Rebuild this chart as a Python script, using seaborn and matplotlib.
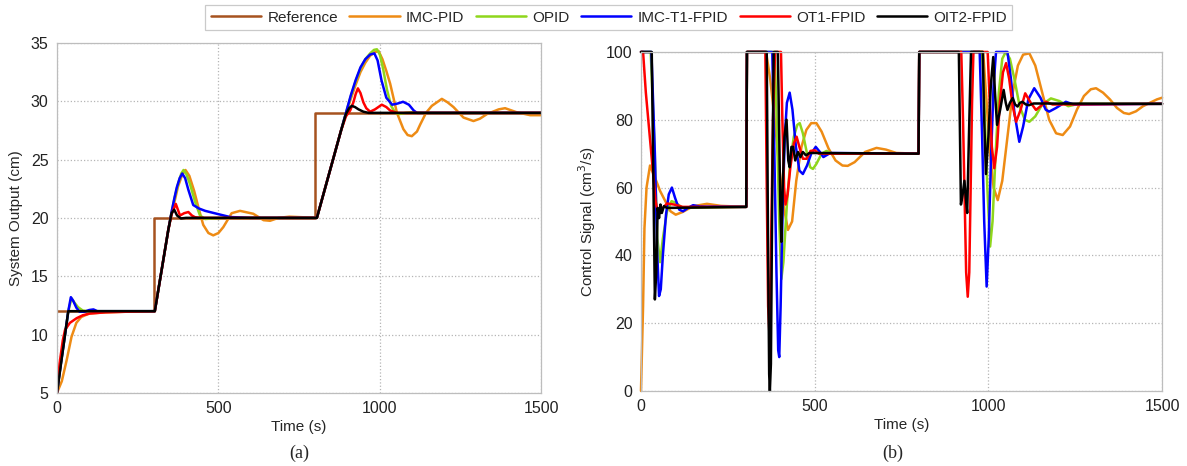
import pandas as pd
import matplotlib.pyplot as plt
import seaborn as sns
from matplotlib.lines import Line2D

names = ['Reference', 'IMC-PID', 'OPID', 'IMC-T1-FPID', 'OT1-FPID', 'OIT2-FPID']
colors = ['#A6521F', '#EE8B14', '#8FD61C', '#0000FF', '#FF0000', '#000000']

# ---- (a) system output ----
t_ref = [0, 300, 300, 800, 800, 1500]
y_ref = [12, 12, 20, 20, 29, 29]

t_imc_a = [0, 15, 30, 45, 60, 75, 100, 150, 210, 303, 315, 330, 345, 355, 365, 375, 388, 398, 410, 425,
           438, 453, 469, 484, 500, 515, 541, 567, 608, 640, 660, 686, 720, 805, 830, 855, 880, 895, 910,
           925, 940, 955, 970, 985, 996, 1008, 1020, 1032, 1053, 1073, 1086, 1099, 1115, 1125, 1143, 1161,
           1192, 1210, 1228, 1259, 1290, 1310, 1332, 1368, 1388, 1424, 1466, 1500]
y_imc_a = [5, 6.0, 7.8, 9.8, 11.0, 11.5, 11.8, 11.9, 11.95, 12, 14.0, 16.5, 19.0, 20.4, 21.5, 22.7, 23.7, 24.1,
           23.6, 22.3, 20.9, 19.4, 18.7, 18.5, 18.7, 19.2, 20.4, 20.6, 20.35, 19.8, 19.75, 20.0, 20.1, 20, 22.5,
           25.0, 27.5, 28.9, 30.2, 31.4, 32.5, 33.3, 33.9, 34.2, 34.3, 33.6, 32.6, 31.5, 29.0, 27.6, 27.1, 27.0,
           27.4, 28.0, 29.0, 29.6, 30.2, 29.9, 29.5, 28.6, 28.3, 28.5, 28.9, 29.3, 29.4, 29.05, 28.8, 28.8]

t_opid_a = [0, 12, 25, 35, 45, 55, 65, 80, 95, 303, 315, 330, 345, 355, 365, 376, 385, 392, 400, 412, 428,
            443, 459, 480, 520, 805, 830, 855, 880, 895, 910, 925, 940, 955, 970, 982, 991, 1000, 1010, 1022,
            1035, 1048, 1060, 1080, 1100, 1130, 1500]
y_opid_a = [5, 7.5, 10, 12, 13.1, 12.7, 12.35, 12.05, 12.0, 12, 14.0, 16.5, 19.0, 20.5, 21.8, 23.0, 23.8, 24.1,
            23.8, 22.9, 21.35, 20.2, 19.9, 19.95, 20, 20, 22.5, 25.0, 27.5, 29.0, 30.4, 31.7, 32.8, 33.6, 34.1,
            34.4, 34.45, 34.0, 32.8, 31.0, 29.6, 29.0, 28.9, 29.0, 29.05, 29.0, 29]

t_imct1_a = [0, 12, 25, 35, 43, 50, 60, 70, 85, 100, 113, 125, 303, 315, 330, 345, 355, 363, 371, 380, 388,
             397, 407, 422, 440, 459, 495, 536, 600, 805, 830, 855, 880, 895, 910, 925, 940, 955, 970, 983,
             993, 1005, 1020, 1038, 1055, 1072, 1090, 1105, 1115, 1500]
y_imct1_a = [5, 7.5, 10, 12, 13.2, 12.9, 12.3, 11.95, 11.95, 12.1, 12.15, 12.0, 12, 14.0, 16.5, 19.0, 20.5, 21.6,
             22.6, 23.4, 23.8, 23.4, 22.4, 21.1, 20.8, 20.6, 20.35, 20.07, 20, 20, 22.5, 25.0, 27.5, 29.0, 30.5,
             31.8, 32.9, 33.6, 34.0, 34.1, 33.5, 31.8, 30.3, 29.7, 29.8, 29.95, 29.7, 29.2, 29.0, 29]

t_ot1_a = [0, 8, 18, 25, 40, 61, 80, 102, 150, 210, 303, 315, 330, 345, 355, 368, 381, 394, 407, 418, 428,
           450, 805, 830, 855, 880, 895, 908, 918, 925, 932, 940, 949, 958, 970, 985, 1006, 1020, 1032, 1053,
           1500]
y_ot1_a = [5, 7.5, 9.5, 10.4, 11.0, 11.4, 11.65, 11.8, 11.9, 11.95, 12, 14.0, 16.5, 19.0, 20.3, 21.2, 20.2,
           20.4, 20.5, 20.2, 20.05, 20, 20, 22.5, 25.0, 27.5, 28.7, 29.2, 29.9, 30.6, 31.1, 30.7, 29.9, 29.4,
           29.1, 29.3, 29.7, 29.5, 29.2, 29.0, 29]

t_oit2_a = [0, 35, 303, 315, 330, 345, 355, 363, 372, 384, 400, 805, 830, 855, 880, 895, 905, 913, 923, 934,
            949, 965, 1500]
y_oit2_a = [5, 12, 12, 14.0, 16.5, 19.0, 20.4, 20.7, 20.2, 19.95, 20.0, 20, 22.5, 25.0, 27.5, 28.9, 29.4, 29.6,
            29.5, 29.3, 29.1, 29, 29]

# ---- (b) control signal ----
t_imc_b = [0, 6, 10, 16, 26, 40, 55, 70, 85, 100, 120, 150, 190, 230, 303, 305, 360, 372, 385, 398, 410, 423,
           435, 447, 462, 476, 490, 505, 520, 540, 560, 580, 595, 615, 645, 678, 705, 735, 799, 801, 985, 995,
           1005, 1015, 1027, 1040, 1055, 1070, 1085, 1100, 1118, 1135, 1155, 1175, 1195, 1214, 1235, 1255,
           1275, 1295, 1310, 1330, 1350, 1370, 1390, 1405, 1425, 1445, 1465, 1485, 1500]
y_imc_b = [0, 25, 48, 60, 66.5, 63, 59, 56, 53, 52, 52.8, 54.5, 55.2, 54.6, 54.3, 100, 100, 92, 80, 66, 55, 47.5,
           50, 62, 72, 77, 79, 79, 76.5, 71.5, 68, 66.5, 66.4, 67.5, 70.5, 71.7, 71.2, 70.2, 70, 100, 100, 85,
           70, 60, 56.3, 62, 75, 88, 96, 99.2, 99.6, 96, 88, 80, 76, 75.5, 78, 83, 87, 89, 89.3, 88, 86, 83.5,
           82, 81.7, 82.5, 84, 85, 86, 86.5]

t_opid_b = [0, 28, 38, 47, 55, 63, 75, 88, 100, 120, 303, 305, 385, 392, 398, 404, 410, 420, 430, 440, 450,
            457, 466, 478, 487, 495, 505, 520, 534, 550, 799, 801, 982, 990, 997, 1005, 1012, 1020, 1030, 1040,
            1050, 1062, 1075, 1090, 1105, 1118, 1135, 1155, 1180, 1205, 1230, 1260, 1500]
y_opid_b = [100, 100, 75, 45, 38, 45, 53, 56, 55.5, 54, 54.3, 100, 100, 75, 50, 33, 38, 55, 68, 75, 78.5, 79,
            76, 70, 66, 65.5, 67, 70, 70.8, 70, 70, 100, 100, 80, 60, 42.6, 50, 68, 88, 98, 100, 98, 92, 84, 80,
            79.4, 81, 84.5, 86.3, 85.5, 84, 84.7, 84.7]

t_imct1_b = [0, 30, 40, 47, 52, 57, 63, 72, 80, 89, 98, 110, 121, 135, 150, 170, 303, 305, 378, 384, 390, 395,
             398, 402, 408, 414, 420, 428, 436, 446, 456, 466, 478, 490, 503, 515, 525, 545, 799, 801, 975, 982,
             988, 995, 1001, 1008, 1015, 1022, 1055, 1065, 1075, 1089, 1100, 1115, 1132, 1150, 1165, 1175, 1195,
             1223, 1245, 1500]
y_imct1_b = [100, 100, 70, 40, 28, 30, 40, 52, 58, 60, 57, 53.5, 53, 54, 54.8, 54.4, 54.3, 100, 100, 70, 35, 12,
             10, 25, 55, 75, 85, 88, 83, 72, 65, 64, 66.5, 70, 72, 70.5, 69, 70.2, 70, 100, 100, 75, 50, 30.8, 45,
             70, 90, 100, 100, 92, 82, 73.5, 78, 86, 89.3, 86.5, 83, 82.4, 83.5, 85.3, 84.5, 84.7]

t_ot1_b = [0, 6, 14, 21, 28, 35, 42, 48, 58, 75, 95, 120, 303, 305, 358, 362, 366, 370, 374, 380, 386, 403,
           407, 412, 416, 422, 430, 440, 448, 456, 466, 477, 488, 500, 512, 799, 801, 922, 927, 932, 936, 940.6,
           945, 949, 953, 957, 998, 1004, 1010, 1017, 1025, 1033, 1042, 1051, 1060, 1070, 1080, 1093, 1106,
           1122, 1137, 1150, 1165, 1185, 1500]
y_ot1_b = [100, 100, 88, 80, 72, 64, 56, 53, 53.5, 55.3, 55.0, 54.3, 54.3, 100, 100, 60, 25, 16, 40, 80, 100,
           100, 80, 60, 55, 58, 66, 73, 75, 72, 68.5, 68.5, 70.8, 71, 70, 70, 100, 100, 80, 55, 35, 27.8, 35, 60,
           85, 100, 100, 85, 72, 65.7, 72, 85, 94, 96.7, 92, 84, 79.4, 83, 87.8, 85, 82.9, 84, 85.3, 84.5, 84.7]

t_oit2_b = [0, 31, 36, 40, 44, 48, 52, 56, 60, 66, 75, 303, 305, 362, 366, 369, 371, 374, 378, 382, 394, 398,
            401, 404, 408, 413, 419, 424, 428, 433, 438, 444, 452, 459, 466, 475, 485, 799, 801, 915, 921, 926,
            931, 935, 939, 944, 950, 984, 988, 993, 1000, 1007, 1014, 1019, 1025, 1034, 1044, 1050, 1055, 1062,
            1070, 1077, 1084, 1091, 1098, 1108, 1117, 1130, 1500]
y_oit2_b = [100, 100, 60, 27, 35, 54, 51, 55, 52.5, 54.5, 54, 54.3, 100, 100, 40, 5, 0, 8, 60, 100, 100, 75, 55,
            44, 60, 75, 80, 68, 66, 72, 72, 68, 70.5, 69, 70.5, 69.5, 70.2, 70, 100, 100, 55, 58, 62, 57, 52.5,
            75, 100, 100, 80, 64, 75, 90, 98.5, 88, 78.5, 83, 88.8, 85, 82.9, 85, 86.4, 84.5, 83.9, 85, 85.3,
            84.5, 84.3, 84.8, 84.7]

series_a = {
    'Reference': (t_ref, y_ref),
    'IMC-PID': (t_imc_a, y_imc_a),
    'OPID': (t_opid_a, y_opid_a),
    'IMC-T1-FPID': (t_imct1_a, y_imct1_a),
    'OT1-FPID': (t_ot1_a, y_ot1_a),
    'OIT2-FPID': (t_oit2_a, y_oit2_a),
}
series_b = {
    'IMC-PID': (t_imc_b, y_imc_b),
    'OPID': (t_opid_b, y_opid_b),
    'IMC-T1-FPID': (t_imct1_b, y_imct1_b),
    'OT1-FPID': (t_ot1_b, y_ot1_b),
    'OIT2-FPID': (t_oit2_b, y_oit2_b),
}


def to_frame(series):
    parts = [pd.DataFrame({'time': t, 'value': v, 'controller': k}) for k, (t, v) in series.items()]
    return pd.concat(parts, ignore_index=True)


df_a = to_frame(series_a)
df_b = to_frame(series_b)
pal = dict(zip(names, colors))

sns.set_style('whitegrid')
plt.rcParams['font.family'] = ['Liberation Sans', 'DejaVu Sans']

fig = plt.figure(figsize=(11.87, 4.66), dpi=100)
ax1 = fig.add_axes([0.048, 0.157, 0.408, 0.751])
ax2 = fig.add_axes([0.540, 0.161, 0.439, 0.7275])

sns.lineplot(data=df_a, x='time', y='value', hue='controller', hue_order=names, palette=pal,
             estimator=None, sort=False, lw=1.8, legend=False, ax=ax1)
sns.lineplot(data=df_b, x='time', y='value', hue='controller', hue_order=names[1:], palette=pal,
             estimator=None, sort=False, lw=1.8, legend=False, ax=ax2)
for line in ax2.get_lines():
    line.set_clip_on(False)

ax1.set_xlim(0, 1500)
ax1.set_ylim(5, 35)
ax1.set_yticks(range(5, 36, 5))
ax1.set_ylabel('System Output (cm)', fontsize=11, labelpad=6)
ax2.set_xlim(0, 1500)
ax2.set_ylim(0, 100)
ax2.set_yticks(range(0, 101, 20))
ax2.set_ylabel('Control Signal (cm$^3$/s)', fontsize=11, labelpad=6)

for ax in (ax1, ax2):
    ax.set_xticks([0, 500, 1000, 1500])
    ax.set_xlabel('Time (s)', fontsize=11, labelpad=3)
    ax.grid(True, linestyle=':', color='#b5b5b5', linewidth=0.9)
    ax.tick_params(labelsize=11.5, length=0, pad=6, colors='#222222')
    for sp in ax.spines.values():
        sp.set_color('#bdbdbd')
        sp.set_linewidth(0.9)

fig.text(0.252, 0.018, '(a)', family='Liberation Serif', fontsize=13, ha='center')
fig.text(0.752, 0.018, '(b)', family='Liberation Serif', fontsize=13, ha='center')

handles = [Line2D([], [], color=c, lw=1.8) for c in colors]
leg = fig.legend(handles, names, ncol=6, loc='center', bbox_to_anchor=(0.513, 0.962), fontsize=11,
                 frameon=True, fancybox=False, edgecolor='#bdbdbd', handlelength=3.3, columnspacing=0.75,
                 handletextpad=0.4, borderpad=0.35)
leg.get_frame().set_linewidth(0.9)

fig.savefig('out.png', dpi=100)
